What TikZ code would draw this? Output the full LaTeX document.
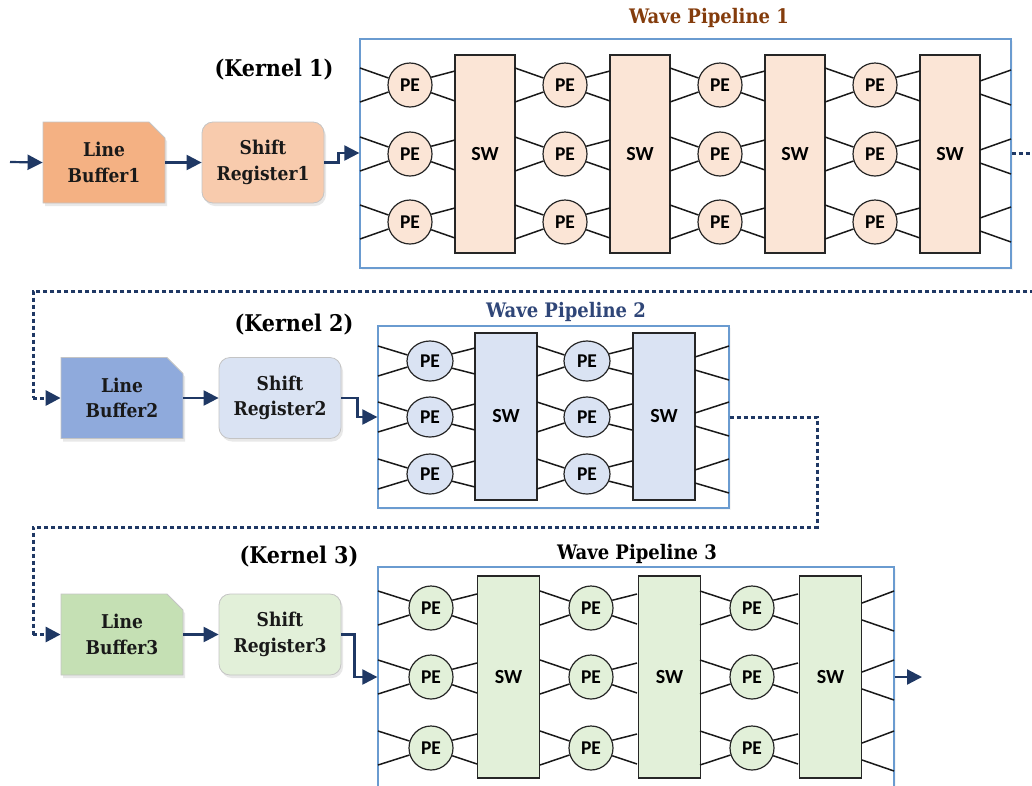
\documentclass[tikz,border=0pt]{standalone}
\usepackage{fontspec}
\setmainfont{DejaVu Serif Condensed}
\newfontfamily\pefont{Carlito}
\usetikzlibrary{arrows.meta,shapes.misc,shapes.geometric,shadows}

\definecolor{navy}{HTML}{1F3864}
\definecolor{frameblue}{HTML}{6A9BD0}
\definecolor{edgegray}{HTML}{C4C4C4}
\definecolor{lbA}{HTML}{F4B183}
\definecolor{srA}{HTML}{F8CBAD}
\definecolor{peA}{HTML}{FBE5D6}
\definecolor{lbB}{HTML}{8FAADC}
\definecolor{srB}{HTML}{DAE3F3}
\definecolor{peB}{HTML}{DAE3F3}
\definecolor{lbC}{HTML}{C5E0B4}
\definecolor{srC}{HTML}{E2F0D9}
\definecolor{peC}{HTML}{E2F0D9}
\definecolor{titleA}{HTML}{843C0C}
\definecolor{titleB}{HTML}{2F4678}

\tikzset{
  softshadow/.style={drop shadow={opacity=0.18, shadow xshift=2pt, shadow yshift=-3pt}},
  boxtext/.style={font=\fontsize{19}{25.5}\selectfont\bfseries, text=black!90},
  linebuf/.style={chamfered rectangle, chamfered rectangle corners=north east,
    chamfered rectangle xsep=8pt, chamfered rectangle ysep=8pt,
    draw=edgegray, line width=0.8pt, minimum width=122pt, minimum height=81pt,
    inner sep=0pt, align=center, boxtext, softshadow},
  shiftreg/.style={rectangle, rounded corners=11pt, draw=edgegray, line width=0.8pt,
    minimum width=122pt, minimum height=81pt, inner sep=0pt, align=center,
    boxtext, softshadow},
  pipebox/.style={rectangle, draw=frameblue, line width=1.3pt, fill=white, inner sep=0pt,
    drop shadow={opacity=0.08, shadow xshift=2pt, shadow yshift=-2pt}},
  swbox/.style={rectangle, draw=black!85, line width=1.3pt, inner sep=0pt,
    font=\pefont\bfseries\fontsize{20}{22}\selectfont},
  pecirc/.style={circle, draw=black!85, line width=1.2pt, minimum size=44pt, inner sep=0pt,
    font=\pefont\bfseries\fontsize{19.5}{22}\selectfont},
  peoval/.style={ellipse, draw=black!85, line width=1.2pt, minimum width=46pt,
    minimum height=40pt, inner sep=0pt, font=\pefont\bfseries\fontsize{19.5}{22}\selectfont},
  wire/.style={line width=1.5pt, black!90},
  flow/.style={line width=2.2pt, navy, -{Triangle[length=15pt, width=15pt]}},
  hopflow/.style={line width=3pt, navy, dash pattern=on 4pt off 3pt,
    -{Triangle[length=15pt, width=15pt]}},
  hop/.style={line width=3pt, navy, dash pattern=on 4pt off 3pt},
  kernel/.style={font=\fontsize{23}{26}\selectfont\bfseries},
  wavetitle/.style={font=\fontsize{20}{22}\selectfont\bfseries},
}

\begin{document}
\begin{tikzpicture}[x=1pt, y=-1pt]
\useasboundingbox (0,0) rectangle (1032,785);

% ---------------- Kernel 1 ----------------
\node[kernel] (k1) at (274,70) {(Kernel 1)};
\node[wavetitle, text=titleA] (t1) at (709,18) {Wave Pipeline 1};
\node[linebuf, fill=lbA] (lb1) at (104,162.5) {Line\\Buffer1};
\node[shiftreg, fill=srA] (sr1) at (263,162.5) {Shift\\Register1};
\node[pipebox, minimum width=651pt, minimum height=229pt] (w1) at (685.5,153.5) {};

\foreach \k/\x in {1/485,2/640,3/795,4/950}
  \node[swbox, fill=peA, minimum width=60pt, minimum height=198pt] (s1\k) at (\x,154) {SW};
\foreach \k/\x/\xl in {1/410/360,2/565/515,3/720/670,4/875/825}
  \foreach \r/\y in {1/85,2/154,3/222} {
    \node[pecirc, fill=peA] (p1\k\r) at (\x,\y) {PE};
    \draw[wire] (\xl,\y-17) -- (p1\k\r.162);
    \draw[wire] (\xl,\y+17) -- (p1\k\r.198);
    \draw[wire] (p1\k\r.20) -- (\x+45,\y-14);
    \draw[wire] (p1\k\r.-20) -- (\x+45,\y+16);
  }
\foreach \y in {85,154,222} {
  \draw[wire] (980,\y-4) -- (1011,\y-15);
  \draw[wire] (980,\y+9) -- (1011,\y+20);
}

% ---------------- Kernel 2 ----------------
\node[kernel] (k2) at (294,325) {(Kernel 2)};
\node[wavetitle, text=titleB] (t2) at (566,312) {Wave Pipeline 2};
\node[linebuf, fill=lbB] (lb2) at (122,398) {Line\\Buffer2};
\node[shiftreg, fill=srB] (sr2) at (280,398) {Shift\\Register2};
\node[pipebox, minimum width=351pt, minimum height=182pt] (w2) at (553.5,417) {};

\foreach \k/\x in {1/506,2/664}
  \node[swbox, fill=peB, minimum width=62pt, minimum height=167pt] (s2\k) at (\x,416.5) {SW};
\foreach \k/\x/\xl in {1/430/378,2/587/537}
  \foreach \r/\y in {1/361,2/417,3/474} {
    \node[peoval, fill=peB] (p2\k\r) at (\x,\y) {PE};
    \draw[wire] (\xl,\y-15) -- (p2\k\r.165);
    \draw[wire] (\xl,\y+15) -- (p2\k\r.195);
    \draw[wire] (p2\k\r.18) -- (\x+45,\y-13);
    \draw[wire] (p2\k\r.-18) -- (\x+45,\y+13);
  }
\foreach \y in {361,417,474} {
  \draw[wire] (695,\y-4) -- (729,\y-15);
  \draw[wire] (695,\y+9) -- (729,\y+19);
}

% ---------------- Kernel 3 ----------------
\node[kernel] (k3) at (299,557) {(Kernel 3)};
\node[wavetitle] (t3) at (637,554) {Wave Pipeline 3};
\node[linebuf, fill=lbC] (lb3) at (122,634.5) {Line\\Buffer3};
\node[shiftreg, fill=srC] (sr3) at (280,634.5) {Shift\\Register3};
\node[pipebox, minimum width=516pt, minimum height=228pt] (w3) at (636,681) {};

\foreach \k/\x in {1/508.5,2/669.5,3/830.5}
  \node[swbox, fill=peC, minimum width=62pt, minimum height=202pt] (s3\k) at (\x,677) {SW};
\foreach \k/\x/\xl in {1/431/378,2/591/540,3/752/700}
  \foreach \r/\y in {1/608,2/677,3/748} {
    \node[pecirc, fill=peC] (p3\k\r) at (\x,\y) {PE};
    \draw[wire] (\xl,\y-17) -- (p3\k\r.162);
    \draw[wire] (\xl,\y+17) -- (p3\k\r.198);
    \draw[wire] (p3\k\r.20) -- (\x+46,\y-14);
    \draw[wire] (p3\k\r.-20) -- (\x+46,\y+16);
  }
\foreach \y in {608,677,748} {
  \draw[wire] (862,\y-5) -- (894,\y-17);
  \draw[wire] (862,\y+12) -- (894,\y+23);
}

% ---------------- data flow ----------------
\coordinate (src) at (10,162);
\coordinate (sink) at (922,677);
\draw[flow] (src) -- (lb1.west);
\draw[flow] (lb1.east) -- (sr1.west);
\draw[flow] (sr1.east) -- ++(14,0) |- (w1.west |- 0,153);
\draw[hop] (w1.east |- 0,153) -- (1045,153) -- (1045,291) -- (33,291) -- (33,398);
\draw[hopflow] (33,398) -- (lb2.west);
\draw[flow] (lb2.east) -- (sr2.west);
\draw[flow] (sr2.east) -- ++(16,0) |- (w2.west);
\draw[hop] (w2.east) -- (817,417) -- (817,527) -- (33,527) -- (33,634.5);
\draw[hopflow] (33,634.5) -- (lb3.west);
\draw[flow] (lb3.east) -- (sr3.west);
\draw[flow] (sr3.east) -- ++(13,0) |- (w3.west |- 0,677);
\draw[flow] (w3.east |- 0,677) -- (sink);
\end{tikzpicture}
\end{document}
